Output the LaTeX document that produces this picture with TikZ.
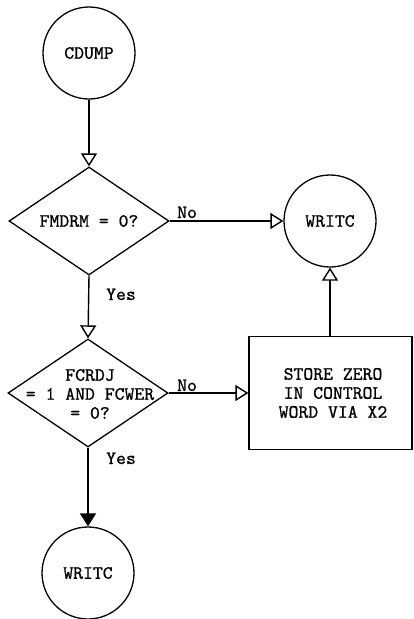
\documentclass[tikz,border=0pt]{standalone}
\usepackage{fontspec}
\newfontfamily\twfont{lmmono10-regular.otf}[FakeBold=0.9]
\usetikzlibrary{arrows.meta,shapes.geometric}
\begin{document}
\begin{tikzpicture}[x=1pt,y=-1pt,
  every node/.style={font=\twfont\fontsize{18.8}{19}\selectfont},
  conn/.style={line width=1.4pt},
  circ/.style={circle,draw,line width=1.3pt,minimum size=92pt,inner sep=0pt},
  dia/.style={diamond,draw,line width=1.3pt,minimum width=160pt,minimum height=108pt,inner sep=0pt},
  boxst/.style={rectangle,draw,line width=1.3pt,minimum width=163pt,minimum height=113pt,inner sep=0pt},
  txt/.style={align=center,inner sep=0pt},
  lbl/.style={inner sep=0pt,anchor=base west},
  arr/.style={conn,-{Triangle[open,length=13pt,width=16pt,line width=1.4pt]}},
  farr/.style={conn,-{Triangle[length=13pt,width=16pt]}}
]
\useasboundingbox (0,0) rectangle (414,619);
\fill[white] (0,0) rectangle (414,619);
\node[circ] (cdump) at (89,53) {CDUMP};
\node[dia] (d1) at (89,221) {};
\node[txt] (t1) at (d1) {FMDRM = 0?};
\node[circ] (w1) at (330,221) {WRITC};
\node[dia] (d2) at (88,393) {};
\node[txt] (t2) at (90,394) {FCRDJ\\= 1 AND FCWER\\= 0?};
\node[boxst] (box) at (330.5,393) {};
\node[txt] (t3) at (333,393) {STORE ZERO\\IN CONTROL\\WORD VIA X2};
\node[circ] (w2) at (88,573) {WRITC};
\draw[arr] (cdump.south) -- (d1.north);
\draw[arr] (d1.east) -- (w1.west);
\draw[arr] (d1.south) -- (d2.north);
\draw[arr] (d2.east) -- (box.west);
\draw[arr] (box.north -| w1.south) -- (w1.south);
\draw[farr] (d2.south) -- (w2.north);
\node[lbl] (no1) at (177,218) {No};
\node[lbl] (yes1) at (106,300) {Yes};
\node[lbl] (no2) at (177,391) {No};
\node[lbl] (yes2) at (106,464) {Yes};
\end{tikzpicture}
\end{document}
